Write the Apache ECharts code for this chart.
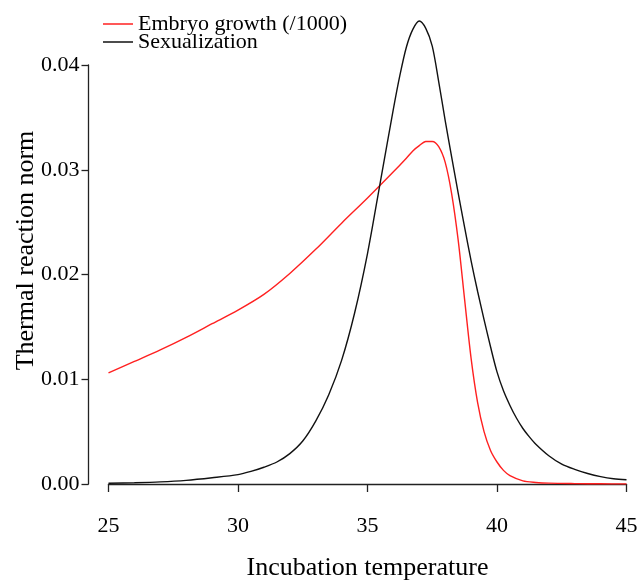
<!DOCTYPE html>
<html>
<head>
<meta charset="utf-8">
<script src="https://cdn.jsdelivr.net/npm/echarts@6/dist/echarts.min.js"></script>
<style>
html,body{margin:0;padding:0;background:#fff;}
#chart{width:638px;height:582px;}
</style>
</head>
<body>
<div id="chart"></div>
<script>
// ---- data ----
const seriesNames = ["Embryo growth (/1000)", "Sexualization"];
const xTitle = "Incubation temperature";
const yTitle = "Thermal reaction norm";

const embryoTemp = [25, 26, 27, 28, 29, 30, 31, 32, 33, 34, 35, 36, 36.5, 36.75, 37, 37.25, 37.5, 37.75, 38, 38.25, 38.5, 38.75, 39, 39.25, 39.5, 39.75, 40, 40.25, 40.5, 41, 41.5, 42, 43, 44, 45];
const embryoVal  = [0.0106, 0.0117, 0.0128, 0.0140, 0.0153, 0.0166, 0.0181, 0.0201, 0.0224, 0.0249, 0.0273, 0.0298, 0.0311, 0.0318, 0.0323, 0.0327, 0.0327, 0.0322, 0.0307, 0.0277, 0.0233, 0.0176, 0.0120, 0.0078, 0.0050, 0.0032, 0.0021, 0.0013, 0.0008, 0.0003, 0.00015, 0.00008, 0.00004, 0.00002, 0.00001];

const sexTemp = [25, 26, 27, 28, 29, 30, 30.5, 31, 31.5, 32, 32.5, 33, 33.5, 34, 34.5, 35, 35.5, 36, 36.25, 36.5, 36.75, 37, 37.25, 37.5, 37.75, 38, 38.25, 38.5, 38.75, 39, 39.25, 39.5, 39.75, 40, 40.25, 40.5, 40.75, 41, 41.25, 41.5, 42, 42.5, 43, 43.5, 44, 44.5, 45];
const sexVal  = [0.00007, 0.00012, 0.0002, 0.00035, 0.0006, 0.0009, 0.0012, 0.0016, 0.0021, 0.0029, 0.0041, 0.0060, 0.0085, 0.0118, 0.0163, 0.0220, 0.0289, 0.0358, 0.0390, 0.0417, 0.0434, 0.0442, 0.0435, 0.0418, 0.0384, 0.0347, 0.0312, 0.0278, 0.0245, 0.0213, 0.0184, 0.0157, 0.0131, 0.0107, 0.0089, 0.0075, 0.0063, 0.0053, 0.0045, 0.0038, 0.0027, 0.0019, 0.0014, 0.0010, 0.0007, 0.0005, 0.0004];

const xMin = 25, xMax = 45, xStep = 5;
const yMin = 0, yMax = 0.04, yStep = 0.01;

// ---- chart ----
const FONT = '"Liberation Serif", "Times New Roman", serif';
const chart = echarts.init(document.getElementById('chart'), null, {renderer: 'canvas'});
const pairs = (xs, ys) => xs.map((x, i) => [x, ys[i]]);

chart.setOption({
  animation: false,
  backgroundColor: '#ffffff',
  grid: {left: 108.5, right: 11.5, top: 65, bottom: 98, containLabel: false, outerBoundsMode: 'none'},
  legend: {
    orient: 'vertical',
    left: 103, top: 13,
    padding: 0,
    itemGap: -4,
    itemWidth: 30, itemHeight: 1.5,
    icon: 'rect',
    textStyle: {fontFamily: FONT, fontSize: 22, color: '#000'},
    data: seriesNames
  },
  xAxis: {
    type: 'value', min: xMin, max: xMax, interval: xStep,
    offset: 19,
    splitLine: {show: false},
    axisLine: {show: true, lineStyle: {color: '#222', width: 1.3}},
    axisTick: {show: true, length: 8, lineStyle: {color: '#222', width: 1.3}},
    axisLabel: {fontFamily: FONT, fontSize: 22, color: '#000', margin: 12},
    name: xTitle, nameLocation: 'middle', nameGap: 52, nameMoveOverlap: false,
    nameTextStyle: {fontFamily: FONT, fontSize: 26, color: '#000'}
  },
  yAxis: {
    type: 'value', min: yMin, max: yMax, interval: yStep,
    offset: 20,
    splitLine: {show: false},
    axisLine: {show: true, lineStyle: {color: '#222', width: 1.3}},
    axisTick: {show: true, length: 7, lineStyle: {color: '#222', width: 1.3}},
    axisLabel: {fontFamily: FONT, fontSize: 22, color: '#000', margin: 9,
      formatter: v => v.toFixed(2)},
    name: yTitle, nameLocation: 'middle', nameGap: 49, nameMoveOverlap: false,
    nameTextStyle: {fontFamily: FONT, fontSize: 26, color: '#000', padding: [0, 0, 0, 48]}
  },
  series: [
    {
      name: seriesNames[0], type: 'line', data: pairs(embryoTemp, embryoVal),
      smooth: 0.3, showSymbol: false, clip: false,
      lineStyle: {color: '#ff2020', width: 1.4}, itemStyle: {color: '#ff2020'}
    },
    {
      name: seriesNames[1], type: 'line', data: pairs(sexTemp, sexVal),
      smooth: 0.3, showSymbol: false, clip: false,
      lineStyle: {color: '#111', width: 1.4}, itemStyle: {color: '#111'}
    }
  ]
});
</script>
</body>
</html>
